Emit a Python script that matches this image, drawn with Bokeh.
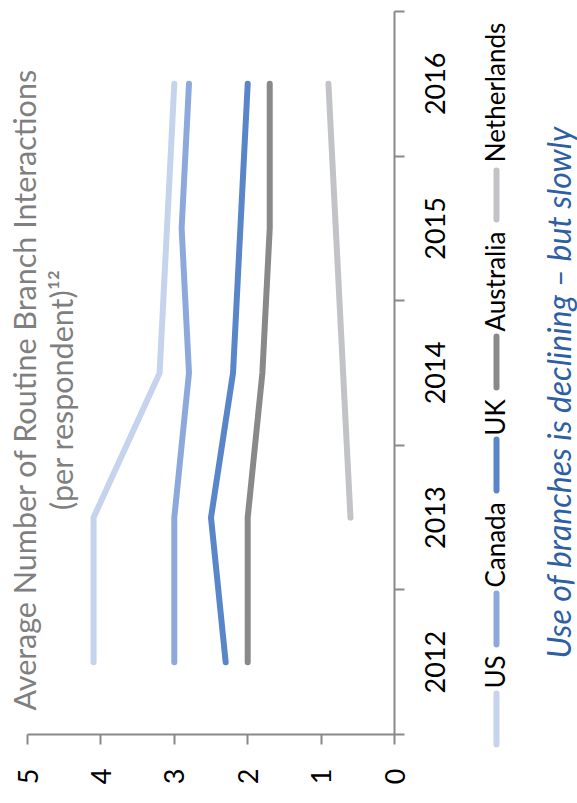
import math
from bokeh.plotting import figure
from bokeh.layouts import row
from bokeh.models import Range1d, FixedTicker, Label
from bokeh.embed import file_html
from bokeh.resources import INLINE
from bokeh.core.properties import value

# ---------------- data ----------------
years = [2012, 2013, 2014, 2015, 2016]
year_labels = ["2012", "2013", "2014", "2015", "2016"]
value_ticks = [0, 1, 2, 3, 4, 5]
value_labels = ["0", "1", "2", "3", "4", "5"]

countries = ["US", "Canada", "UK", "Australia", "Netherlands"]
us = [4.1, 4.1, 3.2, 3.1, 3.0]
canada = [3.0, 3.0, 2.8, 2.9, 2.8]
uk = [2.3, 2.5, 2.2, 2.1, 2.0]
australia = [2.0, 2.0, 1.8, 1.7, 1.7]
nl_years = [2013, 2016]
netherlands = [0.6, 0.9]

colors = ["#C5D4EC", "#8DA9DB", "#5986C8", "#898989", "#C2C3C6"]

title_line1 = "Average Number of Routine Branch Interactions"
title_line2 = "(per respondent)\u00b9\u00b2"
caption = "Use of branches is declining \u2013 but slowly"

FONT = "Lato"
AXIS_COLOR = "#898989"

# ---------------- geometry ----------------
VMAX, PXV = 5, 73.4           # value axis: px per unit
FW = 394                      # frame from page x 0 to value 0
BR = 24
BT, FH, BB = 11, 723, 58
PXY = FH / len(years)         # px per year
H = BT + FH + BB
W1 = FW + BR
W2 = 577 - W1

# ---------------- main chart (rotated) ----------------
p = figure(frame_width=FW, frame_height=FH,
           x_range=Range1d(FW / PXV, 0), y_range=Range1d(years[0] - 0.5, years[-1] + 0.5),
           min_border_left=0, min_border_right=BR, min_border_top=BT, min_border_bottom=BB,
           y_axis_location="right", x_axis_location="below",
           output_backend="svg", toolbar_location=None)
p.outline_line_color = None
p.xgrid.visible = False
p.ygrid.visible = False
p.background_fill_color = "white"
p.border_fill_color = "white"

# value axis (bottom)
xa = p.xaxis[0]
xa.bounds = (0, VMAX)
xa.ticker = FixedTicker(ticks=value_ticks, minor_ticks=[])
xa.major_label_overrides = {t: l for t, l in zip(value_ticks, value_labels)}
xa.major_label_orientation = math.pi / 2
xa.major_tick_out = 10
xa.major_tick_in = 0
xa.minor_tick_out = 0
xa.minor_tick_in = 0
xa.axis_line_color = AXIS_COLOR
xa.axis_line_width = 2
xa.major_tick_line_color = AXIS_COLOR
xa.major_tick_line_width = 2
xa.major_label_standoff = 24
xa.major_label_text_font = FONT
xa.major_label_text_font_size = "27px"
xa.major_label_text_color = "#000000"

# year axis (right): ticks at category boundaries; labels drawn centred in side panel
ya = p.yaxis[0]
ya.ticker = FixedTicker(ticks=[], minor_ticks=[y - 0.5 for y in years] + [years[-1] + 0.5])
ya.major_tick_out = 0
ya.major_tick_in = 0
ya.major_tick_line_color = None
ya.minor_tick_out = 10
ya.minor_tick_in = 0
ya.minor_tick_line_color = AXIS_COLOR
ya.minor_tick_line_width = 2
ya.axis_line_color = AXIS_COLOR
ya.axis_line_width = 2
ya.major_label_standoff = 0

series = [(us, years), (canada, years), (uk, years), (australia, years), (netherlands, nl_years)]
for (vals, yrs), c in zip(series, colors):
    p.line(x=vals, y=yrs, line_color=c, line_width=6, line_cap="round", line_join="round")

for tx, xv in ((title_line1, 5.052), (title_line2, 4.54)):
    p.add_layout(Label(x=xv, y=2013.885, text=tx, angle=math.pi / 2,
                       text_align="center", text_baseline="middle",
                       text_font=FONT, text_font_size="30.5px", text_color="#7F7F7F"))

# ---------------- year labels, legend and caption panel ----------------
p2 = figure(width=W2, height=H, min_border=0,
            x_axis_location=None, y_axis_location=None,
            output_backend="svg", toolbar_location=None)
if "frame_align" in p2.properties():
    p2.frame_align = False
    p.frame_align = False
    y_lo, y_hi = years[0] - 0.5 - BB / PXY, years[-1] + 0.5 + BT / PXY
else:
    y_lo, y_hi = years[0] - 0.5, years[-1] + 0.5
p2.x_range = Range1d(W1, W1 + W2)
p2.y_range = Range1d(y_lo, y_hi)
p2.outline_line_color = None
p2.xgrid.visible = False
p2.ygrid.visible = False


def yp(page_y):
    """page pixel row -> year coordinate of the shared vertical scale"""
    return years[0] - 0.5 + (BT + FH - page_y) / PXY


# year tick labels, centred on each category
p2.text(x=[434.5] * len(years), y=years, text=year_labels, angle=math.pi / 2,
        text_align=value("center"), text_baseline=value("middle"),
        text_font=value(FONT), text_font_size="27px", text_color="#000000")

legend_x = 496
swatch_top = [693, 593, 439, 336, 170]
swatch_bot = [744, 644, 490, 387, 219]
text_center = [671.5, 544.5, 417, 281, 92]
p2.segment(x0=[legend_x] * 5, y0=[yp(v) for v in swatch_top],
           x1=[legend_x] * 5, y1=[yp(v) for v in swatch_bot],
           line_color=colors, line_width=6, line_cap="round")
p2.text(x=[494.5] * 5, y=[yp(v) for v in text_center], text=countries, angle=math.pi / 2,
        text_align=value("center"), text_baseline=value("middle"),
        text_font=value(FONT), text_font_size="26px", text_color="#000000")
p2.text(x=[558], y=[yp(392)], text=[caption], angle=math.pi / 2,
        text_align=value("center"), text_baseline=value("middle"),
        text_font=value(FONT), text_font_style="italic", text_font_size="32px",
        text_color="#2E5FA3")

layout = row(p, p2)
open("out.html", "w").write(file_html(layout, INLINE))
